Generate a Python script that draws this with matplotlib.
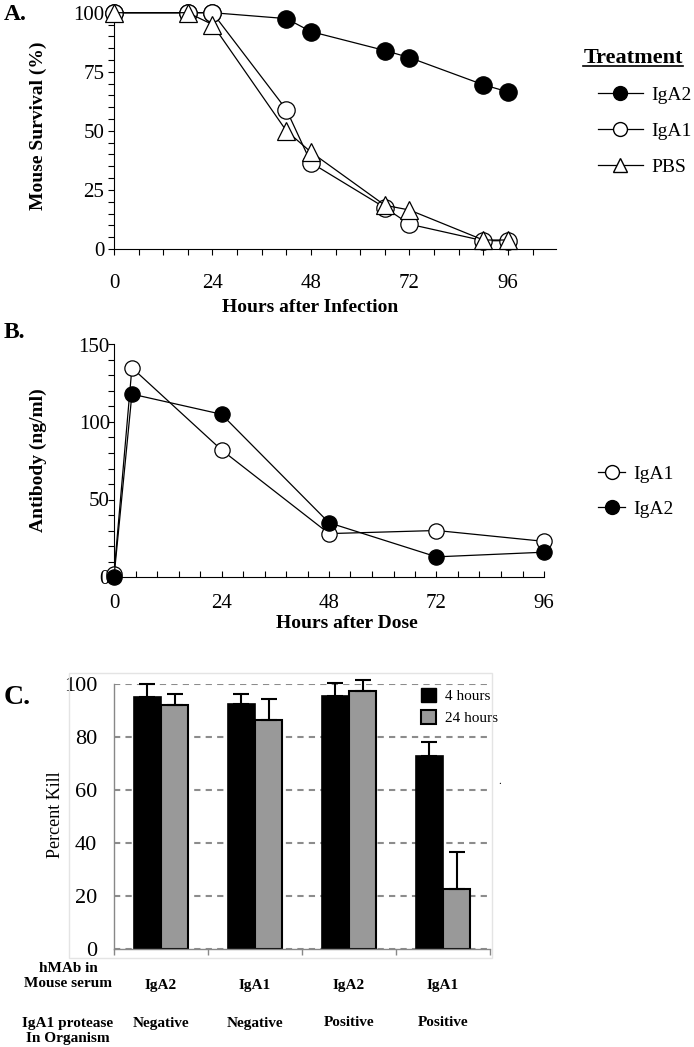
import numpy as np
import matplotlib.pyplot as plt
from matplotlib.ticker import MultipleLocator, FixedLocator
from matplotlib.lines import Line2D
from matplotlib.patches import Patch, Rectangle
from matplotlib.transforms import blended_transform_factory

plt.rcParams['font.family'] = 'serif'
plt.rcParams['font.serif'] = ['Liberation Serif']

W, H = 694, 1047  # output size in pixels

'''data:'''
# A - survival
hours_a = [0, 18, 24, 42, 48, 66, 72, 90, 96]
surv_iga2 = [100, 100, 100, 97.5, 92, 84, 81, 69.5, 66.5]
surv_iga1 = [100, 100, 100, 59, 36.5, 17.5, 10.5, 3.5, 3.5]
surv_pbs = [100, 100, 95, 50, 41, 18.5, 16.5, 3.8, 3.8]

# B - antibody level
hours_b = [0, 4, 24, 48, 72, 96]
ab_iga1 = [2, 135, 82, 28, 30, 23]
ab_iga2 = [0, 118, 105, 35, 13, 16]

# C - killing
hmab = ['IgA2', 'IgA1', 'IgA2', 'IgA1']
protease = ['Negative', 'Negative', 'Positive', 'Positive']
kill_4h = [95, 92.3, 95.5, 73]
err_4h = [5, 4, 4.7, 5.3]
kill_24h = [92, 86.5, 97.5, 22.5]
err_24h = [4.2, 7.8, 4, 14.2]


def box(l, t, r, b):
    return [l/W, 1-b/H, (r-l)/W, (b-t)/H]

def fx(x):
    return x/W

def fy(y):
    return 1-y/H


fig = plt.figure(figsize=(W/100, H/100), dpi=100)

'''panel A:'''
axA = fig.add_axes(box(114, 12.7, 556, 249))
style = dict(color='black', lw=0.9, ms=12.5, mec='black', mew=0.9, clip_on=False, zorder=3)
axA.plot(hours_a, surv_iga2, marker='o', mfc='black', **style)
axA.plot(hours_a, surv_iga1, marker='o', mfc='white', **style)
axA.plot(hours_a, surv_pbs, marker='^', mfc='white', **style)
axA.set_xlim(0, 107.7)
axA.set_ylim(0, 100)
axA.xaxis.set_major_locator(MultipleLocator(24))
axA.xaxis.set_minor_locator(MultipleLocator(6))
axA.yaxis.set_major_locator(MultipleLocator(25))
axA.yaxis.set_minor_locator(MultipleLocator(5))
axA.tick_params(axis='both', which='both', direction='out', length=4, width=0.8)
axA.tick_params(axis='x', which='major', labelsize=15, pad=14)
axA.tick_params(axis='y', which='major', labelsize=15, pad=3)
for s in ['top', 'right']:
    axA.spines[s].set_visible(False)
for s in ['left', 'bottom']:
    axA.spines[s].set_linewidth(0.8)

fig.text(fx(38), fy(126), 'Mouse Survival (%)', rotation=90, fontsize=14,
         fontweight='bold', ha='center', va='center')
fig.text(fx(310), fy(308), 'Hours after Infection', fontsize=14,
         fontweight='bold', ha='center', va='center')
fig.text(fx(4), fy(14), 'A.', fontsize=17, fontweight='bold', ha='left', va='center')

# legend with underlined title
t = fig.text(fx(633), fy(63), 'Treatment', fontsize=16, fontweight='bold',
             ha='center', va='baseline')
bb = t.get_window_extent(fig.canvas.get_renderer())
fig.add_artist(Line2D([bb.x0/W, bb.x1/W], [fy(65.5), fy(65.5)],
                      transform=fig.transFigure, color='black', lw=1.2))
hA = [Line2D([], [], color='black', lw=0.9, marker=m, ms=10, mfc=fc, mec='black')
      for m, fc in [('o', 'black'), ('o', 'white'), ('^', 'white')]]
fig.legend(hA, ['IgA2', 'IgA1', 'PBS'], loc='upper left',
           bbox_to_anchor=(fx(598), fy(86)), frameon=False, fontsize=14,
           handlelength=2.3, handletextpad=0.45, labelspacing=0.95,
           borderpad=0, borderaxespad=0)

'''panel B:'''
axB = fig.add_axes(box(114, 344.5, 544, 577))
style = dict(color='black', lw=0.9, ms=11, mec='black', mew=0.9, clip_on=False, zorder=3)
axB.plot(hours_b, ab_iga1, marker='o', mfc='white', **style)
axB.plot(hours_b, ab_iga2, marker='o', mfc='black', **style)
axB.set_xlim(0, 96)
axB.set_ylim(0, 150)
axB.xaxis.set_major_locator(MultipleLocator(24))
axB.xaxis.set_minor_locator(MultipleLocator(4.8))
axB.yaxis.set_major_locator(MultipleLocator(50))
axB.yaxis.set_minor_locator(MultipleLocator(10))
axB.tick_params(axis='x', which='both', direction='in', length=4, width=0.8)
axB.tick_params(axis='y', which='both', direction='out', length=4, width=0.8)
axB.tick_params(axis='x', which='major', labelsize=15, pad=12)
axB.tick_params(axis='y', which='major', labelsize=15, pad=-1)
for s in ['top', 'right']:
    axB.spines[s].set_visible(False)
for s in ['left', 'bottom']:
    axB.spines[s].set_linewidth(0.8)

fig.text(fx(38), fy(460), 'Antibody (ng/ml)', rotation=90, fontsize=14,
         fontweight='bold', ha='center', va='center')
fig.text(fx(347), fy(623), 'Hours after Dose', fontsize=14,
         fontweight='bold', ha='center', va='center')
fig.text(fx(4), fy(332), 'B.', fontsize=17, fontweight='bold', ha='left', va='center')

hB = [Line2D([], [], color='black', lw=0.9, marker='o', ms=10, mfc=fc, mec='black')
      for fc in ['white', 'black']]
fig.legend(hB, ['IgA1', 'IgA2'], loc='upper left',
           bbox_to_anchor=(fx(598), fy(465)), frameon=False, fontsize=14,
           handlelength=1.4, handletextpad=0.4, labelspacing=0.9,
           borderpad=0, borderaxespad=0)

'''panel C:'''
fig.add_artist(Rectangle((fx(69), fy(958)), (492-69)/W, (958-673)/H,
                         transform=fig.transFigure, fill=False, ec='#e4e4e4', lw=1))
axC = fig.add_axes(box(114, 684, 490, 949))
x = np.arange(len(hmab))
w = 0.29
zeros = np.zeros(len(x))
axC.bar(x - w/2, kill_4h, w, color='black', edgecolor='black', lw=1.2,
        yerr=[zeros, err_4h], capsize=5.5,
        error_kw=dict(ecolor='black', elinewidth=1.5, capthick=1.5, clip_on=False))
axC.bar(x + w/2, kill_24h, w, color='#999999', edgecolor='black', lw=1.5,
        yerr=[zeros, err_24h], capsize=5.5,
        error_kw=dict(ecolor='black', elinewidth=1.5, capthick=1.5, clip_on=False))
axC.set_xlim(-0.5, 3.5)
axC.set_ylim(0, 100)
axC.yaxis.set_major_locator(MultipleLocator(20))
axC.xaxis.set_major_locator(FixedLocator(np.arange(-0.5, 4, 1)))
axC.set_xticklabels([])
axC.yaxis.grid(True, linestyle=(0, (3, 2.5)), color='#8c8c8c', lw=1.5)
axC.set_axisbelow(True)
axC.tick_params(axis='y', length=0, labelsize=16, pad=12)
axC.tick_params(axis='x', direction='out', length=4, width=1, color='#888888')
for s in ['top', 'right']:
    axC.spines[s].set_visible(False)
for s in ['left', 'bottom']:
    axC.spines[s].set_color('#888888')
    axC.spines[s].set_linewidth(1)

fig.text(fx(56), fy(815), 'Percent Kill', rotation=90, fontsize=13,
         ha='center', va='center')
fig.text(fx(4), fy(697), 'C.', fontsize=20, fontweight='bold', ha='left', va='center')
fig.text(fx(500), fy(782), '.', fontsize=8, ha='center', va='center')

axC.legend([Patch(fc='black', ec='black'), Patch(fc='#999999', ec='black', lw=1.5)],
           ['4 hours', '24 hours'], loc='upper left', bbox_to_anchor=(fx(421), fy(688)),
           bbox_transform=fig.transFigure, frameon=False, fontsize=11,
           handlelength=1.0, handleheight=1.0, handletextpad=0.6, labelspacing=0.45,
           borderpad=0, borderaxespad=0)

tr = blended_transform_factory(axC.transData, fig.transFigure)
for i in range(len(hmab)):
    axC.text(x[i], fy(985), hmab[i], transform=tr, fontsize=11, fontweight='bold',
             ha='center', va='center')
    axC.text(x[i], fy(1023), protease[i], transform=tr, fontsize=11, fontweight='bold',
             ha='center', va='center')
fig.text(fx(68), fy(976), 'hMAb in\nMouse serum', fontsize=11, fontweight='bold',
         ha='center', va='center', linespacing=1.15)
fig.text(fx(68), fy(1031), 'IgA1 protease\nIn Organism', fontsize=11, fontweight='bold',
         ha='center', va='center', linespacing=1.15)

fig.savefig('out.png', dpi=100)
